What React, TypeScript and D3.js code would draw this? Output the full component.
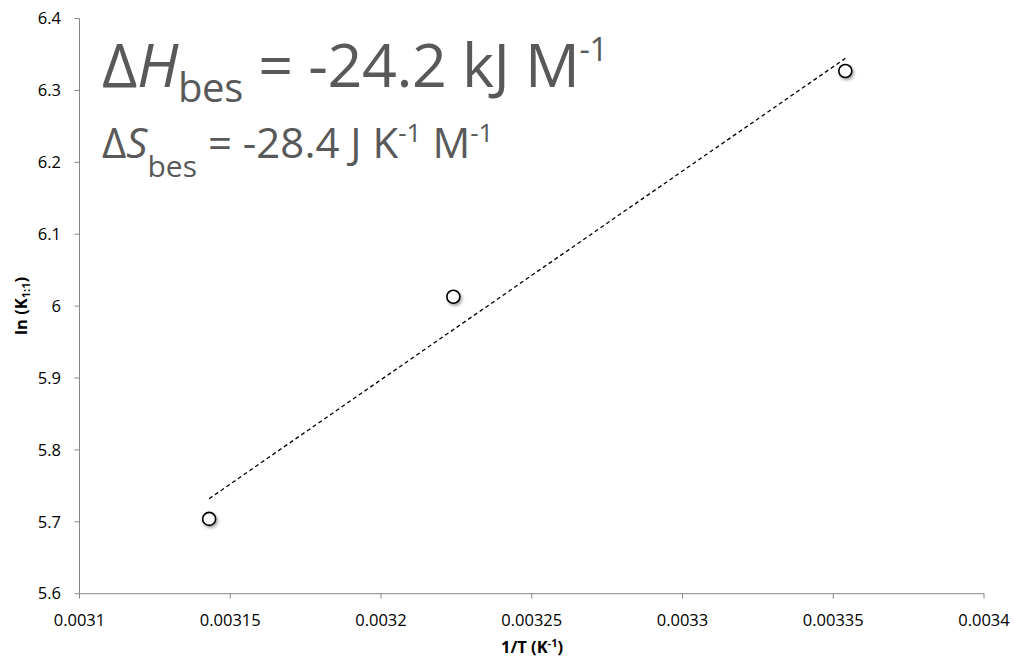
import React from "react";
import * as d3 from "d3";

const invT = [0.003143, 0.003224, 0.003354];
const lnK = [5.704, 6.013, 6.327];
const xTickValues = [0.0031, 0.00315, 0.0032, 0.00325, 0.0033, 0.00335, 0.0034];
const xTickLabels = ["0.0031", "0.00315", "0.0032", "0.00325", "0.0033", "0.00335", "0.0034"];
const yTickValues = [5.6, 5.7, 5.8, 5.9, 6.0, 6.1, 6.2, 6.3, 6.4];
const yTickLabels = ["5.6", "5.7", "5.8", "5.9", "6", "6.1", "6.2", "6.3", "6.4"];

const W = 1014;
const H = 657;
const FONT = "'Open Sans', sans-serif";
const AXIS = "#868686";
const TXT = "#595959";

export default function App() {
  const x = d3.scaleLinear().domain([0.0031, 0.0034]).range([79.5, 984]);
  const y = d3.scaleLinear().domain([5.6, 6.4]).range([593.7, 18.5]);

  // least-squares trendline
  const mx = d3.mean(invT)!;
  const my = d3.mean(lnK)!;
  const sxy = d3.sum(invT.map((v, i) => (v - mx) * (lnK[i] - my)));
  const sxx = d3.sum(invT.map((v) => (v - mx) * (v - mx)));
  const slope = sxy / sxx;
  const icpt = my - slope * mx;
  const xs = d3.extent(invT) as [number, number];
  const line = d3.line<number>().x((v) => x(v)).y((v) => y(slope * v + icpt));

  const x0 = x(0.0031);
  const y0 = y(5.6);

  return (
    <svg width={W} height={H} style={{ position: "absolute", left: 0, top: 0, background: "#fff" }} fontFamily={FONT}>
      <defs>
        <filter id="sh" x="-50%" y="-50%" width="200%" height="200%">
          <feDropShadow dx="1.5" dy="2" stdDeviation="1.5" floodColor="#000" floodOpacity="0.35" />
        </filter>
      </defs>
      {/* axes */}
      <line x1={x0} x2={x0} y1={y(6.4)} y2={y0} stroke={AXIS} strokeWidth={1} />
      <line x1={x0} x2={x(0.0034)} y1={y0} y2={y0} stroke={AXIS} strokeWidth={1} />
      {yTickValues.map((v, i) => (
        <g key={"y" + i}>
          <line x1={x0 - 5} x2={x0} y1={y(v)} y2={y(v)} stroke={AXIS} />
          <text x={61} y={y(v)} dy="0.35em" textAnchor="end" fontSize={16.5} fill="#000">
            {yTickLabels[i]}
          </text>
        </g>
      ))}
      {xTickValues.map((v, i) => (
        <g key={"x" + i}>
          <line x1={x(v)} x2={x(v)} y1={y0} y2={y0 + 5} stroke={AXIS} />
          <text x={x(v)} y={626} textAnchor="middle" fontSize={16.5} fill="#000">
            {xTickLabels[i]}
          </text>
        </g>
      ))}
      {/* axis titles */}
      <text x={532} y={653} textAnchor="middle" fontSize={16.5} fontWeight="bold" fill="#000">
        1/T (K<tspan fontSize={11} dy={-6}>-1</tspan>
        <tspan dy={6}>)</tspan>
      </text>
      <text transform="translate(27,306) rotate(-90)" textAnchor="middle" fontSize={16.5} fontWeight="bold" fill="#000">
        ln (K<tspan fontSize={11} dy={3}>1:1</tspan>
        <tspan dy={-3}>)</tspan>
      </text>
      {/* trendline */}
      <path d={line(xs) || ""} stroke="#000" strokeWidth={1.3} strokeDasharray="4,3" fill="none" />
      {/* points */}
      {invT.map((v, i) => (
        <circle key={"p" + i} cx={x(v)} cy={y(lnK[i])} r={6.5} fill="#fff" stroke="#000" strokeWidth={1.6} filter="url(#sh)" />
      ))}
      {/* annotations */}
      <text x={102} y={87} fontSize={61} fill={TXT} letterSpacing={-0.4}>
        Δ<tspan fontStyle="italic">H</tspan>
        <tspan fontSize={40} dy={15}>bes</tspan>
        <tspan dy={-15}> = -24.2 kJ M</tspan>
        <tspan fontSize={32} dy={-26}>-1</tspan>
      </text>
      <text x={102} y={158} fontSize={42} fill={TXT}>
        Δ<tspan fontStyle="italic">S</tspan>
        <tspan fontSize={30} dy={19}>bes</tspan>
        <tspan dy={-19}> = -28.4 J K</tspan>
        <tspan fontSize={26} dy={-16}>-1</tspan>
        <tspan dy={16}> M</tspan>
        <tspan fontSize={26} dy={-16}>-1</tspan>
      </text>
    </svg>
  );
}
